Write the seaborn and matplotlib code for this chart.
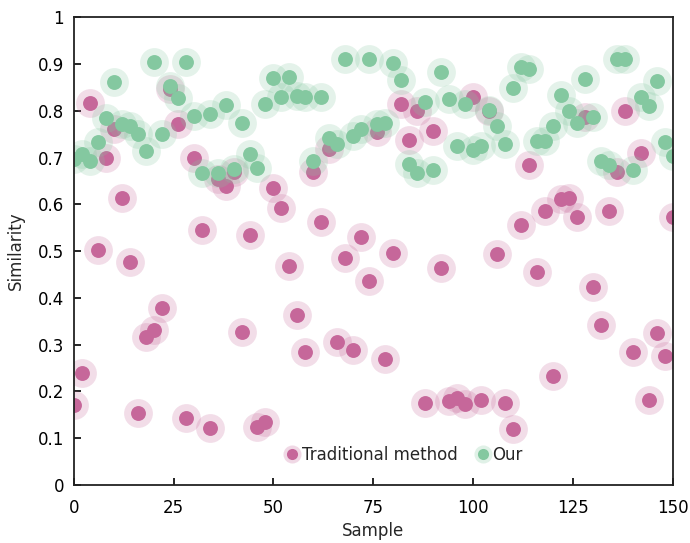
import numpy as np
import pandas as pd
import matplotlib
matplotlib.use("Agg")
import matplotlib.pyplot as plt
import seaborn as sns
from matplotlib.lines import Line2D

# Sample index (every 2nd sample)
samples = list(range(0, 151, 2))

traditional = [
    0.170, 0.239, 0.816, 0.502, 0.699, 0.761, 0.613, 0.476, 0.154, 0.316,
    0.331, 0.378, 0.846, 0.773, 0.143, 0.699, 0.545, 0.122, 0.654, 0.640,
    0.670, 0.327, 0.534, 0.124, 0.135, 0.634, 0.592, 0.468, 0.363, 0.284,
    0.669, 0.562, 0.718, 0.306, 0.485, 0.288, 0.530, 0.436, 0.755, 0.269,
    0.496, 0.814, 0.737, 0.800, 0.175, 0.756, 0.464, 0.180, 0.186, 0.173,
    0.830, 0.182, 0.800, 0.494, 0.175, 0.120, 0.556, 0.684, 0.455, 0.585,
    0.233, 0.611, 0.613, 0.572, 0.786, 0.423, 0.342, 0.586, 0.669, 0.800,
    0.284, 0.709, 0.181, 0.325, 0.276, 0.574,
]

ours = [
    0.697, 0.707, 0.692, 0.733, 0.784, 0.861, 0.771, 0.768, 0.750, 0.714,
    0.905, 0.750, 0.853, 0.828, 0.905, 0.790, 0.667, 0.794, 0.668, 0.812,
    0.675, 0.774, 0.707, 0.677, 0.814, 0.871, 0.829, 0.872, 0.831, 0.829,
    0.693, 0.829, 0.743, 0.729, 0.911, 0.746, 0.762, 0.910, 0.771, 0.774,
    0.903, 0.866, 0.687, 0.667, 0.818, 0.674, 0.884, 0.825, 0.725, 0.814,
    0.716, 0.724, 0.801, 0.768, 0.729, 0.848, 0.893, 0.889, 0.735, 0.735,
    0.768, 0.833, 0.800, 0.775, 0.869, 0.787, 0.693, 0.685, 0.911, 0.911,
    0.674, 0.830, 0.811, 0.864, 0.734, 0.704,
]

series_names = ["Traditional method", "Our"]
series_colors = ["#C6679A", "#84C8A0"]

x_ticks = [0, 25, 50, 75, 100, 125, 150]
y_ticks = [0, 0.1, 0.2, 0.3, 0.4, 0.5, 0.6, 0.7, 0.8, 0.9, 1]
y_tick_labels = ["0", "0.1", "0.2", "0.3", "0.4", "0.5", "0.6", "0.7", "0.8", "0.9", "1"]

df = pd.DataFrame({
    "Sample": samples * 2,
    "Similarity": traditional + ours,
    "method": [series_names[0]] * len(samples) + [series_names[1]] * len(samples),
})

sns.set_theme(style="ticks")
plt.rcParams["font.family"] = ["DejaVu Sans"]

fig = plt.figure(figsize=(6.9, 5.43), dpi=100)
ax = fig.add_axes([0.107, 0.107, 0.868, 0.861])

handles = []
for name, color in zip(series_names, series_colors):
    sub = df[df["method"] == name]
    # soft halo then solid core
    sns.scatterplot(data=sub, x="Sample", y="Similarity", ax=ax, color=color,
                    s=430, alpha=0.22, linewidth=0, legend=False)
    sns.scatterplot(data=sub, x="Sample", y="Similarity", ax=ax, color=color,
                    s=115, alpha=1.0, linewidth=0, legend=False)
    halo = Line2D([], [], marker="o", linestyle="none", markersize=13,
                  markerfacecolor=color, markeredgewidth=0, alpha=0.25)
    core = Line2D([], [], marker="o", linestyle="none", markersize=8,
                  markerfacecolor=color, markeredgewidth=0)
    handles.append((halo, core))

ax.set_xlim(0, 150)
ax.set_ylim(0, 1)
ax.set_xticks(x_ticks)
ax.set_yticks(y_ticks)
ax.set_yticklabels(y_tick_labels)
ax.tick_params(direction="in", length=5, width=1.2, labelsize=12, colors="black")
ax.tick_params(axis="x", pad=10)
ax.tick_params(axis="y", pad=7)
for sp in ax.spines.values():
    sp.set_linewidth(1.3)
    sp.set_color("#222222")

ax.set_xlabel("Sample", fontsize=12, labelpad=4)
ax.set_ylabel("Similarity", fontsize=12, labelpad=9)

ax.legend(handles, series_names, loc="center", bbox_to_anchor=(0.55, 0.064),
          ncol=2, frameon=False, fontsize=12, handletextpad=0.1,
          columnspacing=1.0, handlelength=1.0)

fig.savefig("out.png", dpi=100)
